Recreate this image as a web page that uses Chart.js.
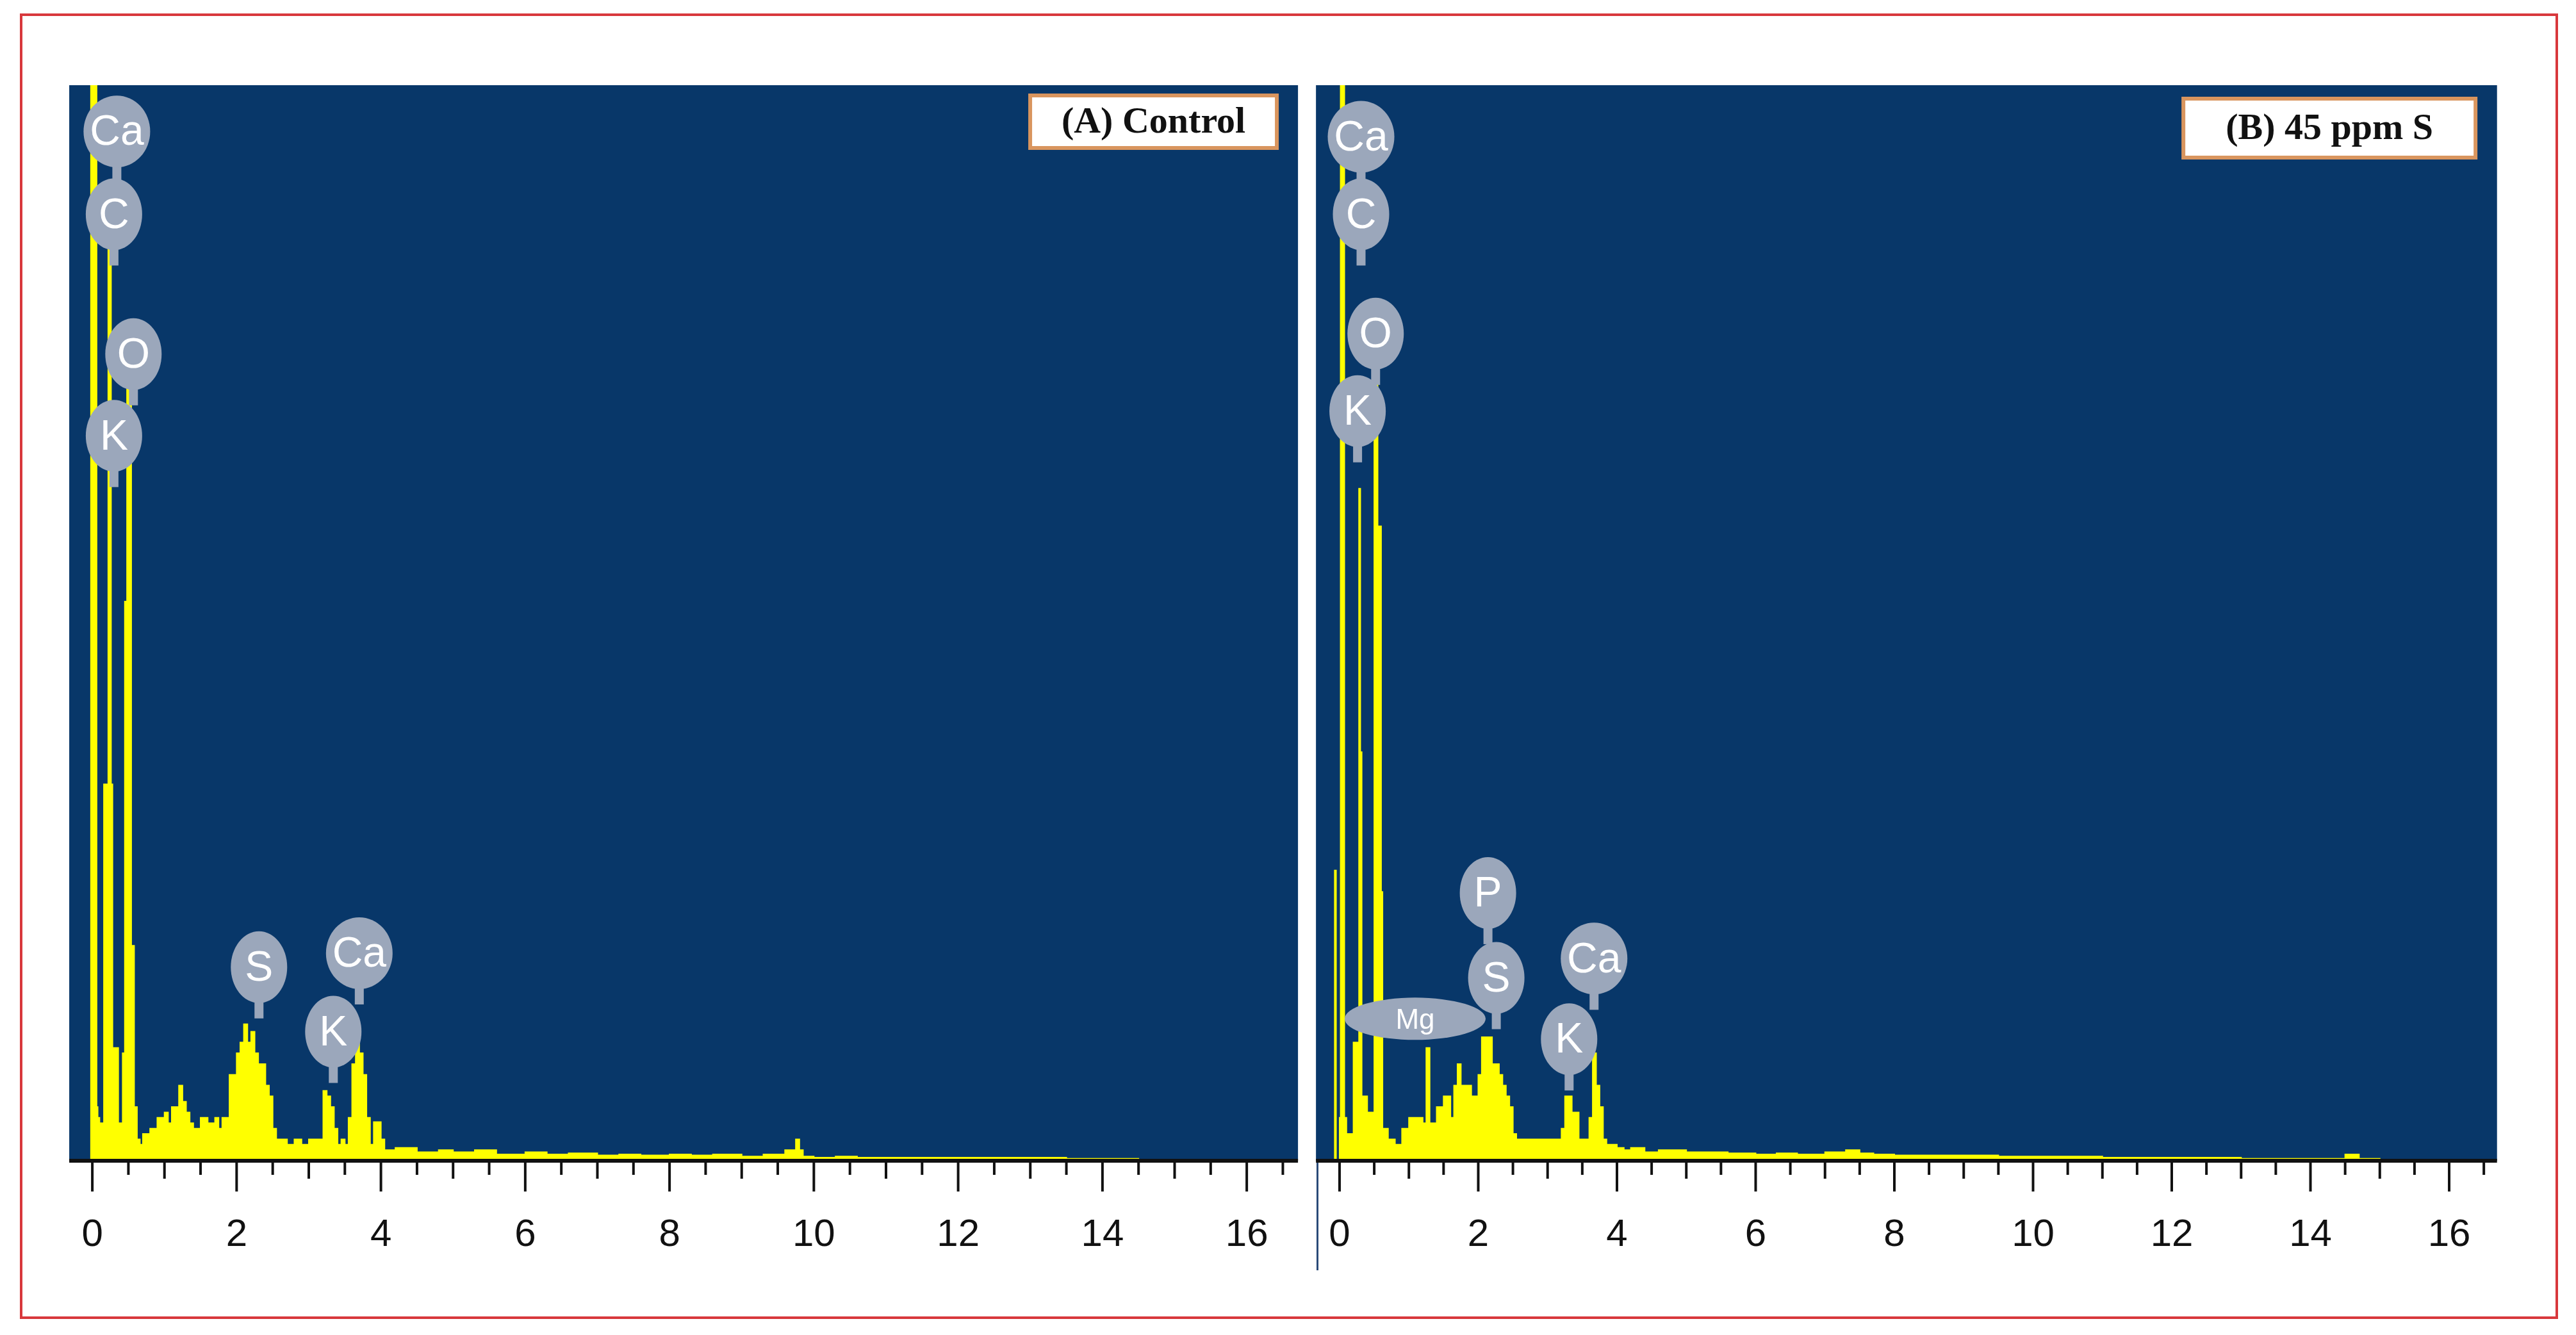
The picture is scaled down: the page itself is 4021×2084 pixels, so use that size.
<!DOCTYPE html>
<html><head><meta charset="utf-8">
<script src="https://cdn.jsdelivr.net/npm/chart.js@4"></script>
<style>
html,body{margin:0;padding:0;background:#fff;width:4021px;height:2084px;overflow:hidden;position:relative}
#frame{position:absolute;left:31px;top:21px;width:3954px;height:2030px;border:4px solid #d8383c}
.cv{position:absolute}
#vline{position:absolute;left:2055px;top:133px;width:3px;height:1850px;background:#2a4a78}
</style></head><body>
<div id="frame"></div>
<div id="vline"></div>
<div class="cv" style="left:48px;top:133px;width:2009px;height:1911px"><canvas id="c1"></canvas></div>
<div class="cv" style="left:1995px;top:133px;width:1939px;height:1911px"><canvas id="c2"></canvas></div>
<script>
// ---- data: energy (keV) and counts (% of plot height; 100 = peak runs off the top)
const controlEnergy = [-0.3,-0.02,0,0.015,0.06,0.075,0.1,0.12,0.16,0.22,0.26,0.28,0.3,0.36,0.42,0.45,0.48,0.54,0.56,0.58,0.62,0.66,0.7,0.8,0.9,1.0,1.05,1.1,1.2,1.25,1.3,1.35,1.4,1.5,1.6,1.7,1.75,1.8,1.9,2.0,2.05,2.1,2.15,2.2,2.25,2.3,2.35,2.4,2.45,2.5,2.55,2.6,2.7,2.8,2.9,3.0,3.1,3.2,3.25,3.3,3.35,3.4,3.45,3.5,3.55,3.6,3.65,3.7,3.75,3.8,3.85,3.9,4.0,4.05,4.1,4.2,4.5,4.8,5.0,5.3,5.6,6.0,6.3,6.6,7.0,7.3,7.6,8.0,8.3,8.6,9.0,9.3,9.6,9.75,9.8,9.85,10.0,10.3,10.6,11.0,11.5,12.0,12.5,13.0,13.5,14.0,14.5,15.0,15.5];
const controlCounts = [0,0,100,4,100,5,4,3.5,3.5,35,85,35,10.5,10.5,3.5,10,52,72,20,20,5,2,1.5,2.5,3,4,4.5,3.5,5,7,5.5,4.5,3.5,3,4,3.5,4,3,4,8,10,11,12.7,11,12,10,9,9,7,6,3,2,2,1.5,2,1.5,2,2,6.5,6,5,3,1.5,2,1.5,4,9,12,10,8,4,1.5,3.6,2,1,1,1.2,0.8,1,0.8,1,0.6,0.8,0.6,0.7,0.5,0.6,0.5,0.6,0.5,0.6,0.4,0.6,1,2,1,0.4,0.3,0.4,0.3,0.3,0.3,0.3,0.3,0.3,0.2,0.2,0.1,0];
const sulfurEnergy = [-0.3,-0.07,-0.05,0,0.015,0.05,0.07,0.1,0.12,0.2,0.22,0.28,0.3,0.32,0.38,0.4,0.45,0.5,0.55,0.58,0.6,0.62,0.66,0.7,0.8,0.9,1.0,1.1,1.2,1.25,1.3,1.35,1.4,1.5,1.6,1.65,1.7,1.75,1.8,1.9,2.0,2.05,2.1,2.2,2.25,2.3,2.35,2.4,2.45,2.5,2.55,2.6,2.7,2.8,2.9,3.0,3.1,3.2,3.25,3.3,3.35,3.4,3.45,3.5,3.55,3.6,3.65,3.7,3.75,3.8,3.85,3.9,4.0,4.1,4.2,4.4,4.6,4.8,5.0,5.3,5.6,6.0,6.3,6.6,7.0,7.3,7.5,7.7,8.0,8.5,9.0,9.5,10.0,10.5,11.0,11.5,12.0,12.5,13.0,13.5,14.0,14.5,14.7,15.0,15.5];
const sulfurCounts = [0,0,27,0,4,100,100,4,2.5,2.5,11,11,62.5,38,6,6,4.5,4.5,73,59,59,25,3,3,2,1.5,3,4,4,3.5,10.5,3.5,3.5,5,6,4,7,9,7,7,6,8,11.5,11.5,9,9,8,7,6,5,2.5,2,2,2,2,2,2,2,3,6,6,4.5,4.5,2,2,2,4,10,7,5,2,1.5,1.5,1.2,1,1.2,0.8,1,1,0.8,0.8,0.7,0.6,0.7,0.6,0.8,1,0.7,0.6,0.5,0.5,0.5,0.4,0.4,0.4,0.3,0.3,0.3,0.3,0.2,0.2,0.2,0.6,0.2,0];
// ---- tick labels and peak labels
const tickLabels = ['0','2','4','6','8','10','12','14','16'];
const controlPeaks = [['Ca',0.34,95.7],['C',0.30,88],['O',0.57,75],['K',0.30,67.4],['S',2.31,18],['K',3.34,12],['Ca',3.70,19.3]];
const sulfurPeaks = [['Ca',0.31,95.2],['C',0.31,88],['O',0.52,76.9],['K',0.26,69.7],['Mg',1.09,13.2],['P',2.14,24.9],['S',2.26,17],['K',3.31,11.3],['Ca',3.67,18.8]];

const BLUE='#083769', YELLOW='#ffff00';
function pts(e,c){return e.map((x,i)=>({x:x,y:c[i]}));}

const decor = {
  id:'decor',
  beforeDatasetsDraw(chart){
    const {ctx,chartArea:a}=chart;
    ctx.save();ctx.fillStyle=BLUE;ctx.fillRect(a.left,a.top,a.right-a.left,a.bottom-a.top);ctx.restore();
  },
  afterDraw(chart){
    const {ctx,chartArea:a,scales:{x,y}}=chart;
    const o=chart.options.plugins.decor;
    ctx.save();
    ctx.strokeStyle='#111';ctx.lineWidth=6;
    ctx.beginPath();ctx.moveTo(a.left,a.bottom);ctx.lineTo(a.right,a.bottom);ctx.stroke();
    ctx.lineWidth=4;
    for(let v=0;v<=16.5;v+=0.5){
      const px=x.getPixelForValue(v);
      const len = (Math.abs(v%2)<1e-6)?48:(Math.abs(v%1)<1e-6?28:22);
      ctx.beginPath();ctx.moveTo(px,a.bottom);ctx.lineTo(px,a.bottom+len);ctx.stroke();
    }
    ctx.beginPath();ctx.rect(a.left,a.top,a.right-a.left,a.bottom-a.top);ctx.clip();
    for(const [t,ex,ey] of o.peaks){
      const cx=x.getPixelForValue(ex), cy=y.getPixelForValue(ey);
      const wide=t==='Mg';
      const rx=wide?110:(t.length>1?52:44), ry=wide?33:56;
      ctx.fillStyle='#9ba7bb';
      if(!wide){ctx.fillRect(cx-7,cy+ry-6,14,30);}
      ctx.beginPath();ctx.ellipse(cx,cy,rx,ry,0,0,Math.PI*2);ctx.fill();
      ctx.fillStyle='#fff';ctx.textAlign='center';ctx.textBaseline='middle';
      ctx.font=(wide?'44px':'66px')+' "Liberation Sans", Arial, sans-serif';
      ctx.fillText(t,cx,cy+3);
    }
    const b=o.box;
    const bx=a.left+b[0], by=a.top+b[1];
    ctx.fillStyle='#fff';ctx.fillRect(bx,by,b[2],b[3]);
    ctx.strokeStyle='#d9955e';ctx.lineWidth=6;ctx.strokeRect(bx,by,b[2],b[3]);
    ctx.fillStyle='#111';ctx.font='bold 58px "Liberation Serif", "Times New Roman", serif';
    ctx.textAlign='center';ctx.textBaseline='middle';
    ctx.fillText(o.title,bx+b[2]/2,by+b[3]/2+2);
    ctx.restore();
  }
};

function make(id,e,c,xmin,xmax,peaks,box,title){
  new Chart(document.getElementById(id),{
    type:'line',
    data:{datasets:[{data:pts(e,c),stepped:'after',fill:'origin',backgroundColor:YELLOW,borderColor:YELLOW,borderWidth:2,pointRadius:0}]},
    options:{
      responsive:true,maintainAspectRatio:false,animation:false,devicePixelRatio:1,
      layout:{padding:0},
      plugins:{legend:{display:false},tooltip:{enabled:false},decor:{peaks:peaks,box:box,title:title}},
      scales:{
        x:{type:'linear',min:xmin,max:xmax,
           afterBuildTicks(s){s.ticks=tickLabels.map(v=>({value:+v}));},
           grid:{display:true,drawOnChartArea:false,drawTicks:false},border:{display:false},
           ticks:{autoSkip:false,maxRotation:0,padding:80,color:'#111',
             font:{size:60,family:'"Liberation Sans Narrow", "Liberation Sans", Arial, sans-serif'},
             callback:(v)=>String(v)}},
        y:{display:false,min:0,max:100}
      }
    },
    plugins:[decor]
  });
}
make('c1',controlEnergy,controlCounts,-0.32,16.71,controlPeaks,[1500,16,385,82],'(A) Control');
make('c2',sulfurEnergy,sulfurCounts,-0.34,16.69,sulfurPeaks,[1354,21,456,92],'(B) 45 ppm S');
</script>
</body></html>
